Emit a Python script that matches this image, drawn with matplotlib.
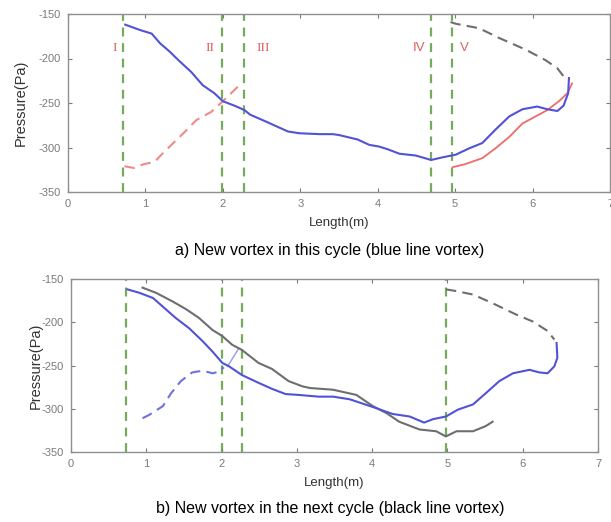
""" Pressure along the vortex path for two consecutive cycles. """
import numpy as np
import matplotlib
matplotlib.use('Agg')
import matplotlib.pyplot as plt

plt.rcParams['font.family'] = ['Liberation Sans', 'DejaVu Sans']
plt.rcParams['axes.unicode_minus'] = False

# (a) new vortex in this cycle
a_blue_x = [0.74, 0.93, 1.08, 1.19, 1.31, 1.44, 1.59, 1.74, 1.89, 2.00, 2.15, 2.28,
            2.35, 2.56, 2.84, 2.99, 3.25, 3.42, 3.50, 3.74, 3.89, 4.02, 4.13, 4.28,
            4.49, 4.69, 4.84, 5.01, 5.18, 5.35, 5.52, 5.70, 5.87, 6.06, 6.19, 6.32,
            6.40, 6.46, 6.47]
a_blue_y = [-162, -168, -172, -183, -192, -203, -215, -230, -239, -248, -253, -258,
            -263, -271, -282, -284, -285, -285, -286, -291, -297, -299, -302, -307,
            -309, -314, -311, -308, -301, -295, -280, -265, -257, -254, -257, -259,
            -253, -239, -222]
a_red_x = [4.97, 5.12, 5.35, 5.52, 5.70, 5.87, 6.04, 6.19, 6.34, 6.45, 6.51]
a_red_y = [-322, -319, -312, -301, -288, -273, -265, -258, -248, -239, -228]
a_red_dash_x = [0.73, 0.85, 0.97, 1.12, 1.23, 1.36, 1.49, 1.66, 1.85, 2.00, 2.13, 2.25]
a_red_dash_y = [-321, -323, -319, -316, -306, -295, -284, -269, -260, -248, -237, -227]
a_gray_dash_x = [4.94, 5.01, 5.31, 5.57, 5.91, 6.17, 6.32, 6.40]
a_gray_dash_y = [-159, -161, -166, -177, -190, -202, -211, -220]
a_stages = [0.71, 1.99, 2.27, 4.69, 4.96]
stage_names = ['I', 'II', 'III', 'IV', 'V']
stage_label_x = [0.61, 1.83, 2.52, 4.54, 5.12]

# (b) new vortex in the next cycle
b_blue_x = [0.75, 0.91, 1.09, 1.22, 1.39, 1.57, 1.75, 1.88, 2.01, 2.10, 2.27, 2.49,
            2.67, 2.85, 3.02, 3.29, 3.48, 3.70, 4.01, 4.27, 4.50, 4.69, 4.81, 4.98,
            5.14, 5.34, 5.51, 5.69, 5.87, 6.09, 6.22, 6.33, 6.42, 6.46, 6.45]
b_blue_y = [-162, -166, -172, -182, -195, -207, -222, -234, -247, -251, -261, -270,
            -277, -283, -284, -286, -286, -289, -298, -306, -309, -316, -312, -309,
            -301, -295, -282, -268, -259, -255, -258, -259, -251, -241, -224]
b_gray_x = [0.95, 1.13, 1.35, 1.53, 1.70, 1.88, 2.01, 2.14, 2.27, 2.49, 2.67, 2.89,
            3.07, 3.17, 3.48, 3.79, 4.01, 4.19, 4.36, 4.63, 4.85, 4.98, 5.12, 5.34,
            5.51, 5.60]
b_gray_y = [-160, -166, -176, -185, -195, -209, -216, -226, -232, -247, -254, -268,
            -274, -276, -278, -284, -297, -305, -315, -324, -326, -332, -326, -326,
            -320, -315]
b_blue_dash_x = [0.95, 1.04, 1.22, 1.33, 1.46, 1.61, 1.75, 1.88, 1.97, 2.03]
b_blue_dash_y = [-311, -307, -297, -282, -268, -258, -256, -259, -257, -252]
b_link_x = [2.08, 2.23]
b_link_y = [-251, -230]
b_gray_dash_x = [4.98, 5.12, 5.34, 5.60, 5.91, 6.13, 6.33, 6.42]
b_gray_dash_y = [-162, -164, -168, -178, -191, -199, -210, -220]
b_stages = [0.73, 2.00, 2.27, 4.98]

x_ticks = np.arange(0, 8)
y_ticks = [-150, -200, -250, -300, -350]

BLUE = '#5252d6'
GRAY = '#6e6e6e'
RED = '#f06a6a'
GREEN = '#5c9e3e'
W, H = 611, 522


def style_axes(ax):
    """Matlab-like box with inward ticks and grey labels."""
    ax.set_xlim(0, 7)
    ax.set_ylim(-350, -150)
    ax.set_xticks(x_ticks)
    ax.set_yticks(y_ticks)
    ax.tick_params(direction='in', length=3, width=0.8, colors='#7a7a7a',
                   labelsize=8, top=True, right=True, pad=5)
    ax.tick_params(axis='x', labeltop=False)
    ax.tick_params(axis='y', labelright=False)
    for spine in ax.spines.values():
        spine.set_color('#8f8f8f')
        spine.set_linewidth(1.0)


def add_stages(ax, positions):
    for x in positions:
        ax.axvline(x, color=GREEN, linestyle=(0, (4, 3)), linewidth=1.6, alpha=0.85)


fig = plt.figure(figsize=(W / 100, H / 100), dpi=100)

# top panel
ax1 = fig.add_axes([68 / W, 1 - 192 / H, 542 / W, 178 / H])
style_axes(ax1)
add_stages(ax1, a_stages)
ax1.plot(a_red_dash_x, a_red_dash_y, color='#f08a8a', linestyle=(0, (5, 3)), linewidth=1.5)
ax1.plot(a_gray_dash_x, a_gray_dash_y, color=GRAY, linestyle=(0, (5, 3)), linewidth=1.5)
ax1.plot(a_red_x, a_red_y, color=RED, linewidth=1.3)
ax1.plot(a_blue_x, a_blue_y, color=BLUE, linewidth=1.5)
# first three stage marks are set in a serif face, the last two in sans
for i, (name, x) in enumerate(zip(stage_names, stage_label_x)):
    fam = 'Liberation Serif' if i < 3 else 'Liberation Sans'
    ax1.text(x, -188, name, color='#e06060', fontsize=9.5, ha='center', va='center',
             family=fam)
ax1.set_ylabel('Pressure(Pa)', fontsize=10.5, color='#333333', labelpad=8)
ax1.set_xlabel('Length(m)', fontsize=9.5, color='#333333', labelpad=6)
fig.text(330 / W, 1 - 250 / H, 'a) New vortex in this cycle (blue line vortex)',
         ha='center', va='center', fontsize=11.5)

# bottom panel
ax2 = fig.add_axes([71 / W, 1 - 452 / H, 527 / W, 173 / H])
style_axes(ax2)
add_stages(ax2, b_stages)
ax2.plot(b_blue_dash_x, b_blue_dash_y, color='#7070e0', linestyle=(0, (5, 3)), linewidth=1.5)
ax2.plot(b_link_x, b_link_y, color='#9a9ae8', linewidth=1.0)
ax2.plot(b_gray_dash_x, b_gray_dash_y, color=GRAY, linestyle=(0, (5, 3)), linewidth=1.5)
ax2.plot(b_gray_x, b_gray_y, color=GRAY, linewidth=1.5)
ax2.plot(b_blue_x, b_blue_y, color=BLUE, linewidth=1.5)
ax2.set_ylabel('Pressure(Pa)', fontsize=10.5, color='#333333', labelpad=-1)
ax2.set_xlabel('Length(m)', fontsize=9.5, color='#333333', labelpad=6)
fig.text(330 / W, 1 - 508 / H, 'b) New vortex in the next cycle (black line vortex)',
         ha='center', va='center', fontsize=11.5)

fig.savefig('out.png', dpi=100)
